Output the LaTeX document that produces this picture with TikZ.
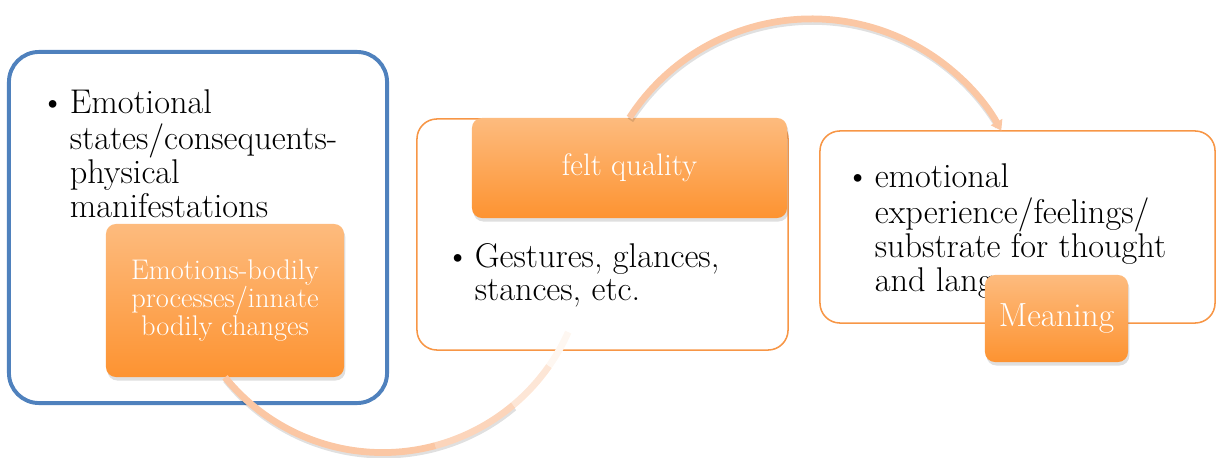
\documentclass[tikz,border=0pt]{standalone}
\usepackage{fontspec}
\usetikzlibrary{arrows.meta,shadows}

\definecolor{boxblue}{HTML}{4F81BD}
\definecolor{boxorange}{HTML}{F79646}
\definecolor{toporange}{HTML}{FDBB7E}
\definecolor{botorange}{HTML}{FD9331}
\definecolor{peach}{HTML}{FBC7A4}

\tikzset{
  roundframe/.style={draw=boxorange, line width=1.1pt, rounded corners=0.5cm},
  orangetag/.style={rounded corners=0.25cm, top color=toporange, bottom color=botorange,
    drop shadow={opacity=0.25, shadow xshift=1pt, shadow yshift=-2.5pt},
    text=white, align=center, inner sep=0pt},
  bullets/.style={anchor=base west, inner sep=0pt, font=\fontsize{24.4}{23.4}\selectfont},
  swoop/.style={line width=4.8pt, draw=peach},
  swoopshadow/.style={line width=4.8pt, draw=black, opacity=0.12,
    transform canvas={xshift=0.6pt, yshift=-1.8pt}}
}

\begin{document}
\begin{tikzpicture}[x=0.025cm, y=-0.025cm]

\useasboundingbox (0,0) rectangle (1217,458);

\coordinate (A) at (198,227.5);
\coordinate (B) at (225,300.5);
\coordinate (C) at (602.5,234.5);
\coordinate (D) at (629.5,168);
\coordinate (E) at (1017.5,227);
\coordinate (F) at (1056.5,318.5);

% outer frames
\node (BX1) [draw=boxblue, line width=2.8pt, rounded corners=0.75cm,
  minimum width=9.45cm, minimum height=8.775cm] at (A) {};
\node (BX2) [roundframe, minimum width=9.275cm, minimum height=5.775cm] at (C) {};
\node (BX3) [roundframe, minimum width=9.875cm, minimum height=4.8cm] at (E) {};

% bullet texts
\node (T1) [bullets] at (40,114) {\begin{tabular}[t]{@{}p{21pt}@{}l@{}}
  \textbullet & Emotional\\
  & states/consequents-\\
  & physical\\
  & manifestations
\end{tabular}};

\node (T2) [bullets] at (445,268) {\begin{tabular}[t]{@{}p{21pt}@{}l@{}}
  \textbullet & Gestures, glances,\\
  & stances, etc.
\end{tabular}};

\node (T3) [bullets] at (845,188) {\begin{tabular}[t]{@{}p{21pt}@{}l@{}}
  \textbullet & emotional\\
  & experience/feelings/\\
  & substrate for thought\\
  & and language
\end{tabular}};

% orange tags
\node (EB) [orangetag, minimum width=5.95cm, minimum height=3.825cm,
  font=\fontsize{20.2}{19.8}\selectfont] at (B) {Emotions-bodily\\processes/innate\\bodily changes};
\node (FQ) [orangetag, minimum width=7.875cm, minimum height=2.5cm,
  font=\fontsize{22.1}{23}\selectfont] at (D) {felt quality};
\node (MN) [orangetag, minimum width=3.575cm, minimum height=2.175cm,
  font=\fontsize{23.8}{25}\selectfont] at (F) {Meaning};

% lower swoop
\draw [swoopshadow] (EB.south) arc[start angle=141, end angle=50, radius=203];
\draw [swoop] (EB.south) arc[start angle=141, end angle=75, radius=203] coordinate (P1);
\draw [swoop, draw=peach!75!white] (P1) arc[start angle=75, end angle=50, radius=203] coordinate (P2);
\draw [swoop, draw=peach!45!white] (P2) arc[start angle=50, end angle=35, radius=203] coordinate (P3);
\draw [swoop, draw=peach!15!white] (P3) arc[start angle=35, end angle=24, radius=203];

% upper swoop
\draw [swoopshadow] (FQ.north) arc[start angle=-147, end angle=-31, radius=217];
\draw [swoop, -{Triangle[width=9pt,length=7pt]}] (FQ.north) arc[start angle=-147, end angle=-29, radius=217];

\end{tikzpicture}
\end{document}
